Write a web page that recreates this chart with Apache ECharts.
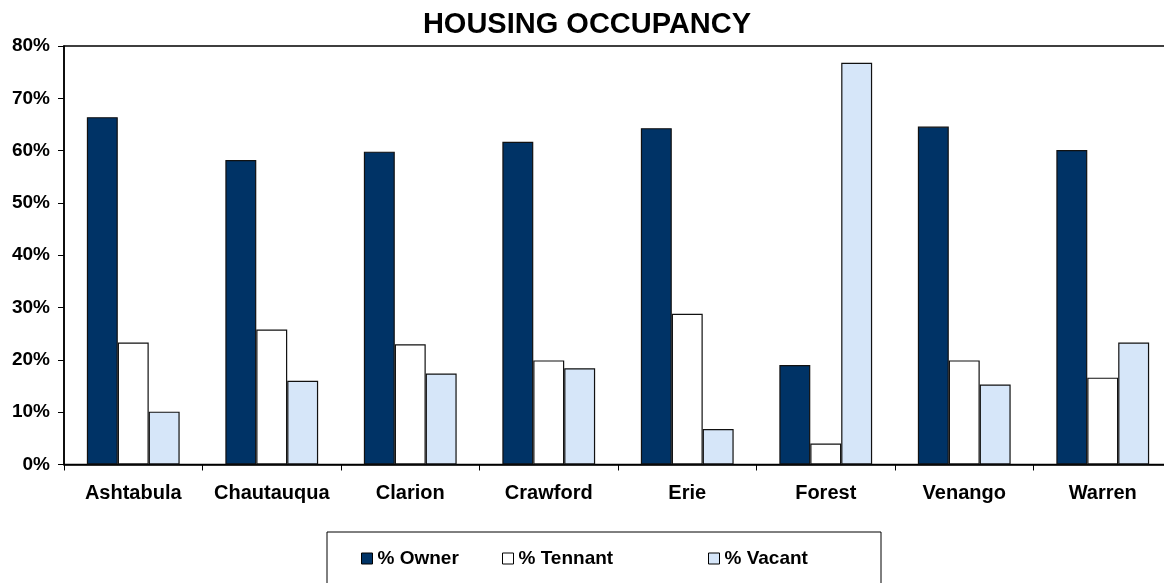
<!DOCTYPE html>
<html lang="en">

<head>
  <meta charset="UTF-8">
  <meta name="viewport" content="width=device-width, initial-scale=1.0">
  <title>Housing Occupancy</title>
  <script src="https://cdn.jsdelivr.net/npm/echarts@6.0.0/dist/echarts.min.js"></script>
  <style>
    body {
      margin: 0;
      padding: 0;
      background-color: #ffffff;
      overflow: hidden;
    }
  </style>
</head>

<body>
  <!-- the original chart runs a little past the right edge, so the div is wider than the window -->
  <div id="chart" style="width: 1172px; height: 583px;"></div>
  <script>
    // data (percent)
    var counties = ["Ashtabula", "Chautauqua", "Clarion", "Crawford", "Erie", "Forest", "Venango", "Warren"];
    var ownerPct = [66.4, 58.2, 59.8, 61.7, 64.3, 19.0, 64.6, 60.1];
    var tenantPct = [23.3, 25.8, 23.0, 19.9, 28.8, 4.0, 19.9, 16.6];
    var vacantPct = [10.1, 16.0, 17.4, 18.4, 6.8, 76.8, 15.3, 23.3];
    var yTicks = [0, 10, 20, 30, 40, 50, 60, 70, 80];

    var font = "'Liberation Sans', Arial, sans-serif";
    var ownerColor = "#003366";
    var tenantColor = "#ffffff";
    var vacantColor = "#d6e6f9";

    var chartDom = document.getElementById('chart');
    var myChart = echarts.init(chartDom);

    function makeBar (name, data, color) {
      return {
        name: name,
        type: "bar",
        data: data,
        barGap: "0%",
        barCategoryGap: "33%",
        itemStyle: {
          color: color,
          borderColor: "#111",
          borderWidth: 1.2
        }
      };
    }

    function makeLegend (name, left) {
      return {
        data: [name],
        left: left,
        top: 549,
        padding: 0,
        icon: "rect",
        itemWidth: 11,
        itemHeight: 11,
        itemGap: 0,
        itemStyle: { borderColor: "#000", borderWidth: 1 },
        textStyle: { fontFamily: font, fontWeight: "bold", fontSize: 19, color: "#000", padding: [0, 0, 0, 0] }
      };
    }

    var option = {
      backgroundColor: "#ffffff",
      animation: false,
      title: {
        text: "HOUSING OCCUPANCY",
        left: 587,
        textAlign: "center",
        top: 10,
        padding: 0,
        textStyle: { fontFamily: font, fontWeight: "bold", fontSize: 29, color: "#000" }
      },
      grid: {
        left: 64,
        right: 0,
        top: 46,
        bottom: 118.5,
        show: true,
        borderColor: "#000",
        borderWidth: 1.5
      },
      legend: [
        makeLegend("% Owner", 361),
        makeLegend("% Tennant", 502),
        makeLegend("% Vacant", 708)
      ],
      graphic: [
        {
          type: "rect",
          shape: { x: 327, y: 532, width: 554, height: 80 },
          style: { fill: "none", stroke: "#000", lineWidth: 1 },
          silent: true
        }
      ],
      xAxis: {
        type: "category",
        data: counties,
        axisLine: { lineStyle: { color: "#000", width: 1.5 } },
        axisTick: { show: true, length: 6, lineStyle: { color: "#000" } },
        axisLabel: {
          margin: 19,
          interval: 0,
          fontFamily: font,
          fontWeight: "bold",
          fontSize: 20,
          color: "#000"
        }
      },
      yAxis: {
        type: "value",
        min: yTicks[0],
        max: yTicks[yTicks.length - 1],
        interval: yTicks[1] - yTicks[0],
        axisLine: { show: true, lineStyle: { color: "#000", width: 1.5 } },
        axisTick: { show: true, length: 6, lineStyle: { color: "#000" } },
        splitLine: { show: false },
        axisLabel: {
          margin: 14,
          formatter: "{value}%",
          fontFamily: font,
          fontWeight: "bold",
          fontSize: 19,
          color: "#000"
        }
      },
      series: [
        makeBar("% Owner", ownerPct, ownerColor),
        makeBar("% Tennant", tenantPct, tenantColor),
        makeBar("% Vacant", vacantPct, vacantColor)
      ]
    };

    option && myChart.setOption(option);
  </script>
</body>

</html>
